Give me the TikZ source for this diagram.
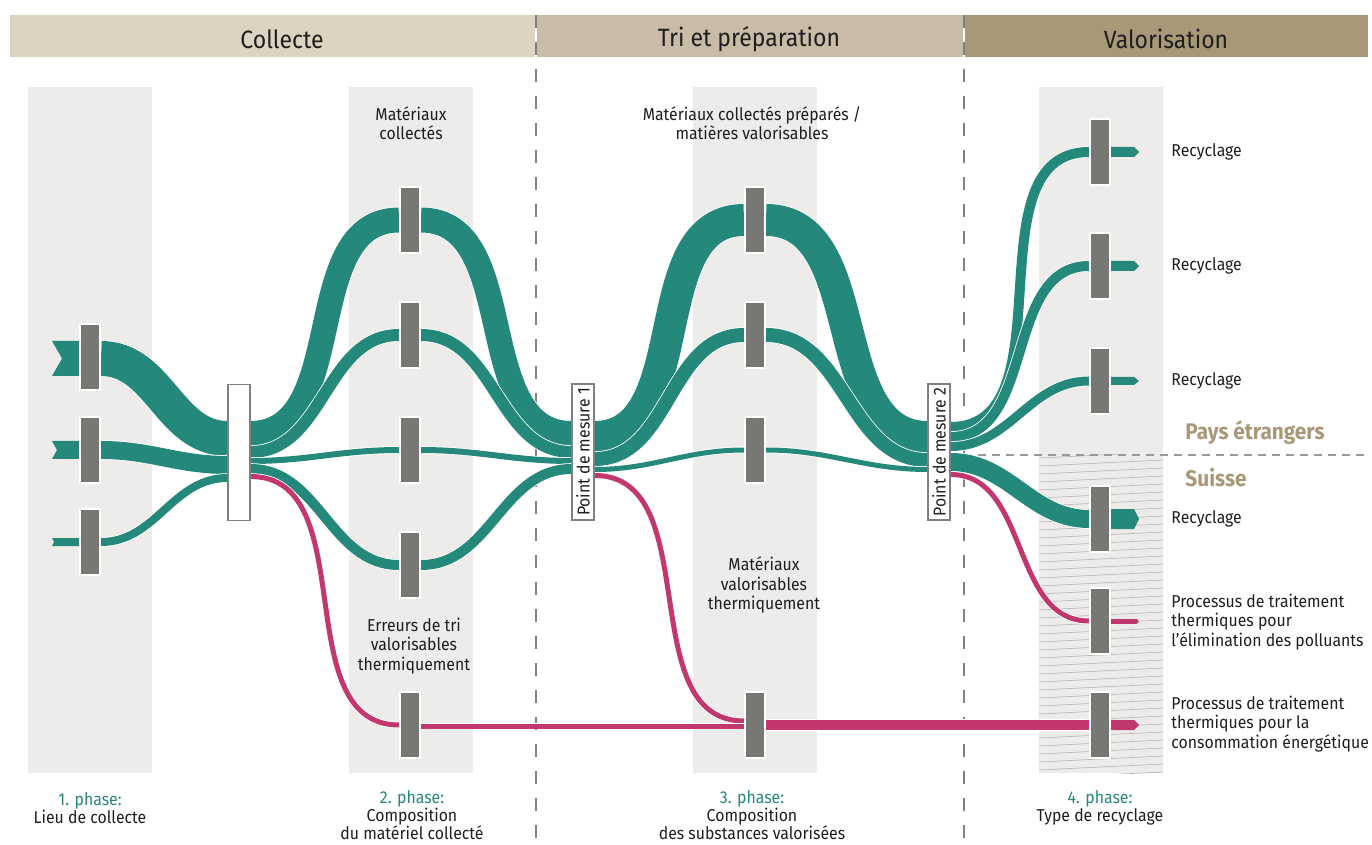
\documentclass[tikz,border=0pt]{standalone}
\usepackage{fontspec}
\setmainfont{Fira Sans}[FakeStretch=0.92]
\usetikzlibrary{calc}
\definecolor{flowgreen}{RGB}{36,137,122}
\definecolor{flowpink}{RGB}{194,55,110}
\definecolor{bargray}{RGB}{119,120,116}
\definecolor{colbg}{RGB}{238,236,234}
\definecolor{headA}{RGB}{221,211,193}
\definecolor{headB}{RGB}{201,187,165}
\definecolor{headC}{RGB}{168,152,120}
\definecolor{labeltan}{RGB}{168,152,120}
\definecolor{txtdark}{RGB}{30,30,30}
\pgfdeclarelayer{bg}
\pgfdeclarelayer{flows}
\pgfsetlayers{bg,flows,main}

\begin{document}
\begin{tikzpicture}[x=0.5pt,y=-0.5pt,
      bar/.style={
         fill=bargray,
         draw=white,
         line width=1pt,
         minimum width=10pt,
         minimum height=33pt,
         inner sep=0pt},
      mbox/.style={
         fill=white,
         draw=gray,
         line width=0.6pt,
         minimum width=11pt,
         minimum height=68pt,
         inner sep=0pt},
      flow/.style={draw=white,line width=0.4pt,double=flowgreen,double distance=#1*0.5pt},
      pflow/.style={draw=white,line width=0.4pt,double=flowpink,double distance=#1*0.5pt},
      head/.style={font=\fontsize{12.5}{14}\selectfont,text=txtdark},
      lbl/.style={font=\fontsize{8.6}{9.6}\selectfont,text=txtdark,align=center,inner sep=0pt},
      phase/.style={lbl,font=\fontsize{8.6}{9}\selectfont},
      rlbl/.style={lbl,align=left,anchor=west},
      region/.style={font=\fontsize{11.3}{13}\selectfont\bfseries,text=labeltan},
      sep/.style={gray,line width=0.6pt,dash pattern=on 6.5pt off 7pt}
      ]
      \useasboundingbox (0,0) rectangle (1372,845);

      % header bands and columns
      \begin{pgfonlayer}{bg}
        \fill[headA] (10,15) rectangle (535,57);
        \fill[headB] (537,15) rectangle (963,57);
        \fill[headC] (965,15) rectangle (1368,57);
        \foreach \x in {28,349,693,1039}
          \fill[colbg] (\x,87) rectangle +(124,686);
        \begin{scope}
          \clip (1039,455) rectangle (1163,773);
          \foreach \y in {452,460,...,780}
            \draw[gray!55,line width=0.35pt] (1039,\y+6) -- (1163,\y);
        \end{scope}
        \draw[sep] (536,15) -- (536,845);
        \draw[sep] (964,15) -- (964,845);
        \draw[gray!80,line width=0.6pt,dash pattern=on 4pt off 3pt] (950,455) -- (1368,455);
      \end{pgfonlayer}

      \node[head] (hcol) at (282,39) {Collecte};
      \node[head] (htri) at (749,39) {Tri et préparation};
      \node[head] (hval) at (1166,39) {Valorisation};

      % bars
      \node[bar] (b11) at (90,357) {};
      \node[bar] (b12) at (90,450) {};
      \node[bar] (b13) at (90,542) {};
      \node[mbox] (mb) at (239,452.5) {};
      \foreach \n/\y in {1/220,2/335,3/450,4/565,5/725}
        \node[bar] (b2\n) at (410,\y) {};
      \node[mbox] (pm1) at (583,452) {};
      \node[font=\fontsize{8.6}{9.6}\selectfont,rotate=90,text=txtdark] (pm1lbl) at (pm1) {Point de mesure 1};
      \foreach \n/\y in {1/220,2/335,3/450,4/725}
        \node[bar] (b3\n) at (755,\y) {};
      \node[mbox] (pm2) at (939,452) {};
      \node[font=\fontsize{8.6}{9.6}\selectfont,rotate=90,text=txtdark] (pm2lbl) at (pm2) {Point de mesure 2};
      \foreach \n/\y in {1/152,2/266,3/381,4/519,5/621,6/725}
        \node[bar] (b4\n) at (1100,\y) {};

      % flows
      \begin{pgfonlayer}{flows}
        \fill[flowgreen] (b11.west |- 0,341) -- (52,341) -- (62,358.5) -- (52,376) -- (b11.west |- 0,376) -- cycle;
        \fill[flowgreen] (b12.west |- 0,441) -- (52,441) -- (57,450) -- (52,459) -- (b12.west |- 0,459) -- cycle;
        \fill[flowgreen] (b13.west |- 0,538) -- (52,538) -- (54,542) -- (52,546) -- (b13.west |- 0,546) -- cycle;

        \foreach \a/\ya/\b/\yb/\w in {% from/y/to/y/width
          b11/358.5/mb/438.5/35,
          b12/450/mb/465/18,
          b13/542/mb/478/8,
          mb/433.5/b21/220/25,
          mb/452/b22/335/12,
          mb/461/b23/450/6,
          mb/469/b24/565/10,
          b21/220/pm1/433.5/25,
          b22/335/pm1/452/12,
          b23/450/pm1/461/6,
          b24/565/pm1/469/10,
          pm1/437/b31/220/32,
          pm1/459/b32/335/14,
          pm1/469.5/b33/450/5,
          b31/220/pm2/437/32,
          b32/335/pm2/460/14,
          b33/450/pm2/469.5/5,
          pm2/427/b41/152/10,
          pm2/437/b42/266/10,
          pm2/446.5/b43/381/9,
          pm2/462/b44/519/18}
           \draw[flow=\w] (\a.east |- 0,\ya) to[out=0,in=180] (\b.west |- 0,\yb);

        \foreach \a/\ya/\b/\yb/\w in {
          mb/476.5/b25/725/5,
          pm1/475.5/b34/721/5,
          b25/726/b34/726/5,
          b34/725/b46/725/10,
          pm2/474.5/b45/621/5}
           \draw[pflow=\w] (\a.east |- 0,\ya) to[out=0,in=180] (\b.west |- 0,\yb);

        \foreach \b/\w/\c in {b41/10/flowgreen,b42/10/flowgreen,b43/8/flowgreen,b44/20/flowgreen,b46/10/flowpink}
          \fill[\c] ($(\b.east)+(0,-\w/2)$) -- ($(\b.east)+(23,-\w/2)$) -- ($(\b.east)+(28,0)$)
            -- ($(\b.east)+(23,\w/2)$) -- ($(\b.east)+(0,\w/2)$) -- cycle;
        \draw[flowpink,line width=2.5pt,line cap=round] (b45.east) -- ++(25,0);
      \end{pgfonlayer}

      % labels
      \node[lbl] (t21) at (411,123) {Matériaux\\collectés};
      \node[lbl] (t31) at (752,123) {Matériaux collectés préparés /\\matières valorisables};
      \node[lbl] (t25) at (414,646) {Erreurs de tri\\valorisables\\thermiquement};
      \node[lbl] (t34) at (764,585) {Matériaux\\valorisables\\thermiquement};
      \foreach \n in {1,2,3,4}
        \node[rlbl] (r\n) at (1171,0 |- b4\n) {Recyclage};
      \node[rlbl] (r5) at (1171,622) {Processus de traitement\\thermiques pour\\l’élimination des polluants};
      \node[rlbl] (r6) at (1171,724) {Processus de traitement\\thermiques pour la\\consommation énergétique};
      \node[region] (pays) at (1255,433) {Pays étrangers};
      \node[region] (suisse) at (1216,478) {Suisse};

      \node[phase] (p1) at (90,808) {{\color{flowgreen}1. phase:}\\Lieu de collecte};
      \node[phase] (p2) at (412,815) {{\color{flowgreen}2. phase:}\\Composition\\du matériel collecté};
      \node[phase] (p3) at (752,815) {{\color{flowgreen}3. phase:}\\Composition\\des substances valorisées};
      \node[phase] (p4) at (1100,808) {{\color{flowgreen}4. phase:}\\Type de recyclage};

\end{tikzpicture}
\end{document}
